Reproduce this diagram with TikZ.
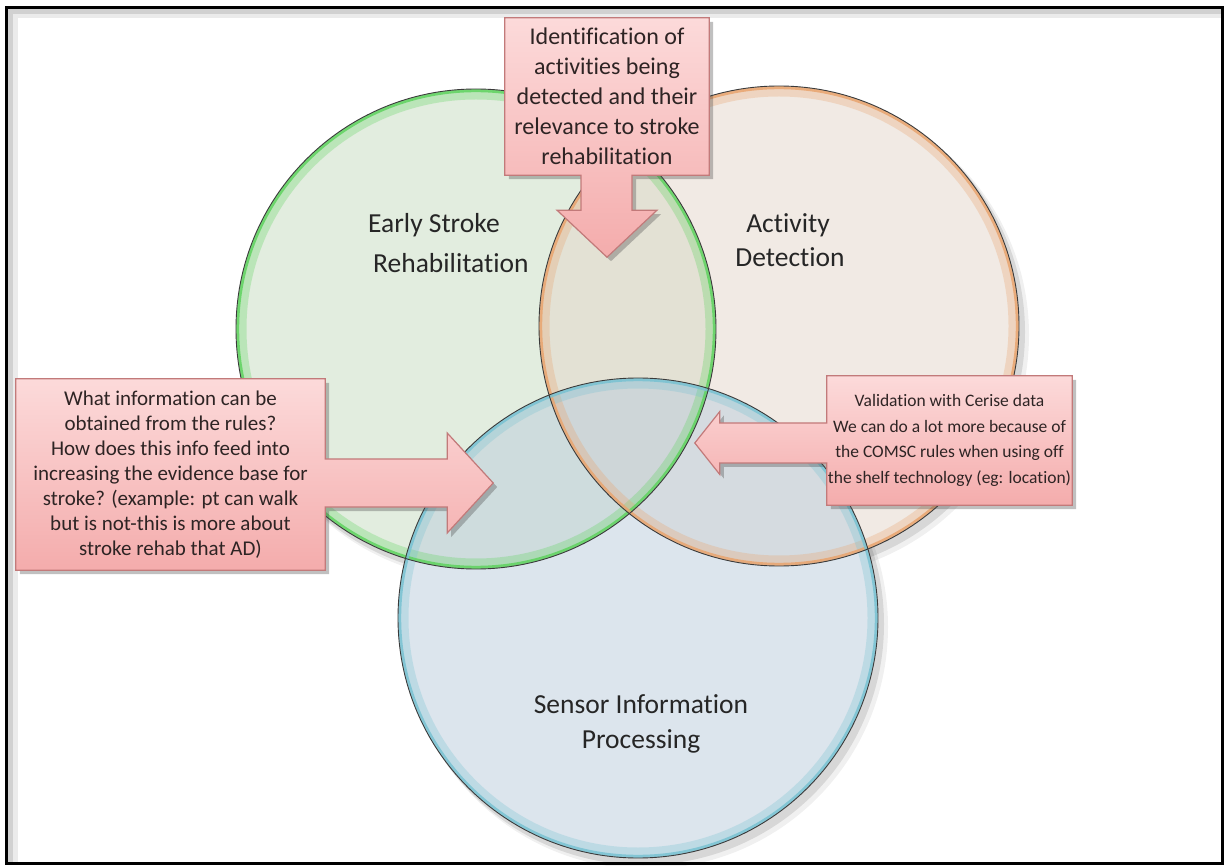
\documentclass[tikz,border=0pt]{standalone}
\usepackage{fontspec}
\setmainfont[Ligatures={NoCommon}]{Carlito}
\usetikzlibrary{calc,shadows}
\definecolor{gfill}{HTML}{C7DDC1}
\definecolor{ofill}{HTML}{E5D7CB}
\definecolor{bfill}{HTML}{BBCDDD}
\definecolor{grim}{HTML}{5FD35F}
\definecolor{orim}{HTML}{E9A46E}
\definecolor{brim}{HTML}{78C2D2}
\definecolor{outl}{HTML}{3A3A3A}
\definecolor{pinktop}{HTML}{FCDADA}
\definecolor{pinkbot}{HTML}{F4ACAC}
\definecolor{pinkedge}{HTML}{C27A7A}
\definecolor{txtdark}{HTML}{2E2424}
\definecolor{lbl}{HTML}{262626}
\pgfdeclarelayer{bg}
\pgfdeclarelayer{mid}
\pgfsetlayers{bg,mid,main}
\begin{document}
\begin{tikzpicture}[x=1pt,y=-1pt,
  calloutshape/.style={draw=pinkedge, line width=1.2pt, line join=miter,
    top color=pinktop, bottom color=pinkbot,
    drop shadow={shadow xshift=4pt, shadow yshift=-4pt, opacity=0.35, fill=black!70}},
  callouttext/.style={text=txtdark, align=center, inner sep=0pt},
  circlabel/.style={text=lbl, inner sep=0pt, font=\fontsize{27.5}{33}\selectfont},
  circshadow/.style={fill=black, opacity=0.10},
  rimwide/.style={line width=9pt, opacity=0.30},
  rimthin/.style={line width=3pt, opacity=0.85},
  circoutline/.style={draw=outl, line width=0.9pt}
]
\useasboundingbox (0,0) rectangle (1224,866);

% circle centres
\coordinate (cG) at (476,329);
\coordinate (cO) at (779,326);
\coordinate (cB) at (638,618);

\begin{pgfonlayer}{bg}
  \fill[white] (0,0) rectangle (1224,866);
  % frame
  \fill[black!18] (8,9) rectangle (1221,14);
  \fill[black!18] (8,9) rectangle (13,862);
  \fill[black!8] (13,14) rectangle (1221,18.5);
  \fill[black!8] (13,14) rectangle (17.5,862);
  \draw[black, line width=3pt] (6.5,7.5) rectangle (1222.5,863.5);
  % shadows
  \foreach \c in {cG,cO,cB}{
    \fill[circshadow] ($(\c)+(5,6)$) circle (241pt);
    \fill[circshadow, opacity=0.06] ($(\c)+(8,9)$) circle (242pt);
  }
  \foreach \c in {cG,cO,cB}{ \fill[white] (\c) circle (240pt); }
  % translucent fills
  \fill[gfill, fill opacity=0.5] (cG) circle (240pt);
  \fill[ofill, fill opacity=0.5] (cO) circle (240pt);
  \fill[bfill, fill opacity=0.5] (cB) circle (240pt);
  % rims
  \draw[grim, rimwide] (cG) circle (234pt);
  \draw[orim, rimwide] (cO) circle (234pt);
  \draw[brim, rimwide] (cB) circle (234pt);
  \draw[grim, rimthin] (cG) circle (238.3pt);
  \draw[orim, rimthin] (cO) circle (238.3pt);
  \draw[brim, rimthin] (cB) circle (238.3pt);
  \draw[circoutline] (cG) circle (240pt);
  \draw[circoutline] (cO) circle (240pt);
  \draw[circoutline] (cB) circle (240pt);
\end{pgfonlayer}

% circle labels
\node[circlabel, anchor=base west] (lblG1) at (368,233) {Early Stroke};
\node[circlabel, anchor=base west] (lblG2) at (373,273) {Rehabilitation};
\node[circlabel, anchor=base] (lblA1) at (788,233) {Activity};
\node[circlabel, anchor=base] (lblA2) at (790,267) {Detection};
\node[circlabel, anchor=base] (lblS1) at (641,713) {Sensor Information};
\node[circlabel, anchor=base] (lblS2) at (641,748) {Processing};

% callout texts
\node[callouttext, minimum width=204pt, minimum height=157pt,
  font=\fontsize{24}{30}\selectfont] (topbox) at (607,96.5)
  {Identification of\\activities being\\detected and their\\relevance to stroke\\rehabilitation};
\node[callouttext, minimum width=309pt, minimum height=191pt,
  font=\fontsize{21}{25}\selectfont] (leftbox) at (170.5,474.5)
  {What information can be\\obtained from the rules?\\How does this info feed into\\increasing the evidence base for\\stroke? (example: pt can walk\\but is not-this is more about\\stroke rehab that AD)};
\node[callouttext, minimum width=245pt, minimum height=129pt,
  font=\fontsize{17.5}{25.5}\selectfont] (rightbox) at (949.5,440.5)
  {Validation with Cerise data\\We can do a lot more because of\\the COMSC rules when using off\\the shelf technology (eg: location)};

\coordinate (topaxis) at (topbox.south);
\coordinate (leftaxis) at ($(leftbox.east)+(0,8.5)$);
\coordinate (rightaxis) at ($(rightbox.west)+(0,2.5)$);

\begin{pgfonlayer}{mid}
  % top callout with downward arrow
  \path[calloutshape] (topbox.north west) -- (topbox.north east) -- (topbox.south east)
    -- ($(topaxis)+(25,0)$) -- ($(topaxis)+(25,35)$) -- ($(topaxis)+(50,35)$)
    -- ($(topaxis)+(0,82)$) -- ($(topaxis)+(-50,35)$) -- ($(topaxis)+(-26,35)$)
    -- ($(topaxis)+(-26,0)$) -- (topbox.south west) -- cycle;
  % left callout with right arrow
  \path[calloutshape] (leftbox.north west) -- (leftbox.north east)
    -- ($(leftaxis)+(0,-24)$) -- ($(leftaxis)+(122,-24)$) -- ($(leftaxis)+(122,-50)$)
    -- ($(leftaxis)+(168,0)$) -- ($(leftaxis)+(122,50)$) -- ($(leftaxis)+(122,24)$)
    -- ($(leftaxis)+(0,24)$) -- (leftbox.south east) -- (leftbox.south west) -- cycle;
  % right callout with left arrow
  \path[calloutshape] (rightbox.north east) -- (rightbox.north west)
    -- ($(rightaxis)+(0,-20)$) -- ($(rightaxis)+(-107,-20)$) -- ($(rightaxis)+(-107,-31.5)$)
    -- ($(rightaxis)+(-132,0)$) -- ($(rightaxis)+(-107,31.5)$) -- ($(rightaxis)+(-107,20)$)
    -- ($(rightaxis)+(0,20)$) -- (rightbox.south west) -- (rightbox.south east) -- cycle;
\end{pgfonlayer}
\end{tikzpicture}
\end{document}
